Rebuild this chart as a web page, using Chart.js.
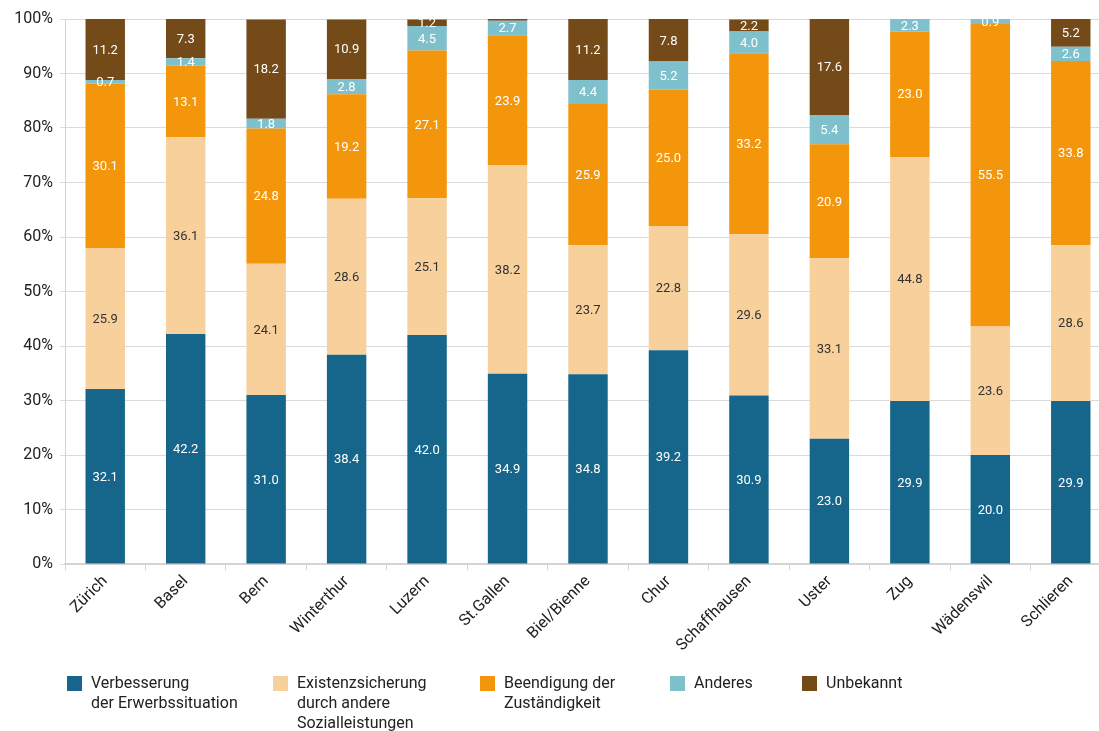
<!DOCTYPE html>
<html><head><meta charset="utf-8">
<script src="https://cdn.jsdelivr.net/npm/chart.js@4.4.1/dist/chart.umd.min.js"></script>
<style>
html,body{margin:0;padding:0;background:#fff;width:1099px;height:731px;overflow:hidden;}
#wrap{position:absolute;left:0;top:0;width:1113px;height:650px;}
#legend{position:absolute;left:0;top:0;width:1099px;height:731px;pointer-events:none;font-family:Roboto,"Open Sans",sans-serif;font-size:16px;color:#222;}
.li{position:absolute;top:673px;}
.li .box{position:absolute;left:0;top:3px;width:15px;height:15px;}
.li .tx{position:absolute;left:24px;top:0;line-height:20px;white-space:nowrap;}
</style></head>
<body>
<div id="wrap"><canvas id="c" width="1113" height="650"></canvas></div>
<div id="legend"></div>
<script>
const categories = ["Zürich","Basel","Bern","Winterthur","Luzern","St.Gallen","Biel/Bienne","Chur","Schaffhausen","Uster","Zug","Wädenswil","Schlieren"];
const seriesNames = [["Verbesserung","der Erwerbssituation"],["Existenzsicherung","durch andere","Sozialleistungen"],["Beendigung der","Zuständigkeit"],["Anderes"],["Unbekannt"]];
const verbesserung = [32.1,42.2,31.0,38.4,42.0,34.9,34.8,39.2,30.9,23.0,29.9,20.0,29.9];
const existenz     = [25.9,36.1,24.1,28.6,25.1,38.2,23.7,22.8,29.6,33.1,44.8,23.6,28.6];
const beendigung   = [30.1,13.1,24.8,19.2,27.1,23.9,25.9,25.0,33.2,20.9,23.0,55.5,33.8];
const anderes      = [0.7,1.4,1.8,2.8,4.5,2.7,4.4,5.2,4.0,5.4,2.3,0.9,2.6];
const unbekannt    = [11.2,7.3,18.2,10.9,1.2,0.3,11.2,7.8,2.2,17.6,0,0,5.2];
const yTicks = [0,10,20,30,40,50,60,70,80,90,100];

const colors = ["#15668a","#f7d09c","#f4960c","#7fc0cd","#744a18"];
const labelColors = ["#ffffff","#333333","#ffffff","#ffffff","#ffffff"];
const seriesData = [verbesserung,existenz,beendigung,anderes,unbekannt];
const FONT = 'Roboto, "Open Sans", sans-serif';

const valueLabels = {
  id:'valueLabels',
  afterDatasetsDraw(chart){
    const ctx = chart.ctx;
    ctx.save();
    ctx.font = '13px ' + FONT;
    ctx.textAlign = 'center';
    ctx.textBaseline = 'middle';
    chart.data.datasets.forEach((ds,i)=>{
      const meta = chart.getDatasetMeta(i);
      meta.data.forEach((bar,j)=>{
        const v = ds.data[j];
        if(v==null || v < 0.5) return;
        const p = bar.getProps(['x','y','base'], true);
        ctx.fillStyle = labelColors[i];
        ctx.fillText(v.toFixed(1), p.x, (p.y + p.base)/2 + 1);
      });
    });
    ctx.restore();
  }
};

new Chart(document.getElementById('c'), {
  type:'bar',
  data:{
    labels: categories,
    datasets: seriesData.map((d,i)=>({
      label: seriesNames[i].join(' '),
      data: d,
      backgroundColor: colors[i],
      borderWidth: 0,
      barPercentage: 0.49,
      categoryPercentage: 1.0
    }))
  },
  options:{
    responsive:false,
    animation:false,
    devicePixelRatio:1,
    layout:{padding:{top:19,right:2,left:0,bottom:0}},
    plugins:{legend:{display:false},tooltip:{enabled:false}},
    scales:{
      x:{
        stacked:true,
        offset:true,
        grid:{display:true,drawOnChartArea:false,offset:true,color:'#d4d4d4',tickLength:6,lineWidth:1},
        border:{color:'#d4d4d4',width:2},
        ticks:{minRotation:45,maxRotation:45,color:'#222',font:{family:FONT,size:16},padding:2},
        afterFit(s){ s.height = 86; }
      },
      y:{
        stacked:true,
        min:0,max:100,
        afterBuildTicks(s){ s.ticks = yTicks.map(v=>({value:v})); },
        grid:{color:'#dadada',lineWidth:1,tickLength:5},
        border:{color:'#d4d4d4',width:1},
        ticks:{color:'#222',font:{family:FONT,size:16},padding:7,callback:v=>v+'%'},
        afterFit(s){ s.width = 65; }
      }
    }
  },
  plugins:[valueLabels]
});

const legendPos = [[67,91],[273,297],[480,504],[670,694],[802,826]];
const lg = document.getElementById('legend');
seriesNames.forEach((n,i)=>{
  const d = document.createElement('div');
  d.className='li';
  d.style.left = legendPos[i][0]+'px';
  d.innerHTML = '<div class="box" style="background:'+colors[i]+'"></div><div class="tx">'+n.join('<br>')+'</div>';
  lg.appendChild(d);
});
</script>
</body></html>
